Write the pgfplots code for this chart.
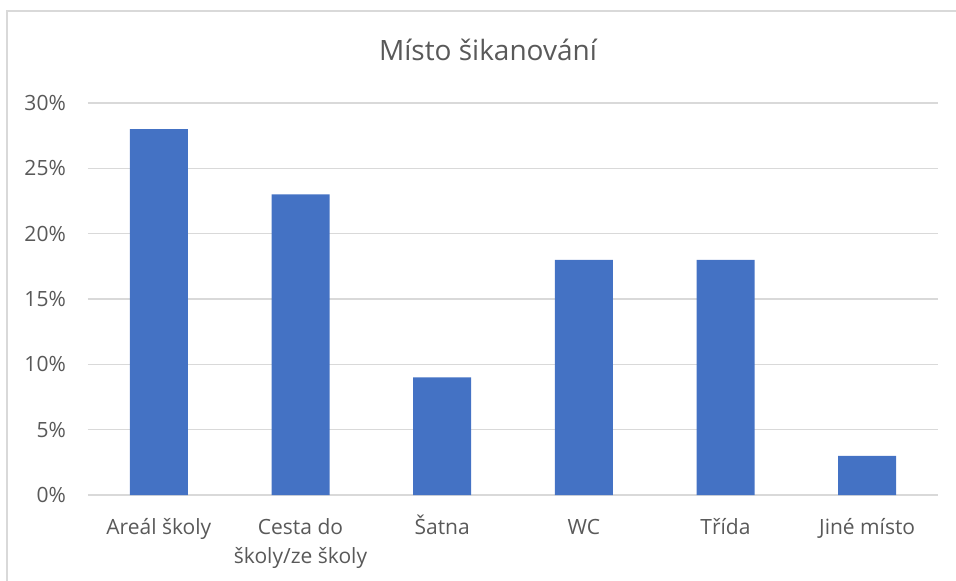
\documentclass[border=0pt]{standalone}
\usepackage{fontspec}
\setmainfont{Open Sans}
\usepackage{pgfplots}
\pgfplotsset{compat=1.18}
\definecolor{barblue}{HTML}{4472C4}
\definecolor{txt}{HTML}{595959}
\definecolor{gridc}{HTML}{D9D9D9}
\newcommand{\st}{\rule{0pt}{22pt}}
\begin{document}
\begin{tikzpicture}[x=1pt,y=1pt]
\useasboundingbox (0,0) rectangle (956,581);
\draw[gridc, line width=1.5pt] (7,0) -- (7,570) -- (956,570);
\node[text=txt, font=\fontsize{28}{32}\selectfont, anchor=center] at (488,531) {Místo šikanování};
\begin{axis}[at={(88pt,86pt)}, anchor=south west, scale only axis,
  width=850pt, height=392pt,
  ymin=0, ymax=30, xmin=-0.5, xmax=5.5,
  axis line style={draw=none},
  tick style={draw=none},
  ymajorgrids, major grid style={gridc, line width=1.3pt},
  ytick={0,5,...,30},
  /pgf/number format/assume math mode=true,
  yticklabel={\pgfmathprintnumber{\tick}\%},
  yticklabel style={inner sep=0pt, xshift=-22pt, text=txt, font=\fontsize{21}{25}\selectfont},
  xtick=data,
  xticklabels={\st Areál školy, {\st Cesta do\\školy/ze školy}, \st Šatna, \st WC, \st Třída, \st Jiné místo},
  xticklabel style={inner sep=0pt, yshift=-13pt, text=txt, align=center, font=\fontsize{21}{29}\selectfont},
  ybar, bar width=58pt,
]
\addplot[fill=barblue, draw=none] coordinates {(0,28) (1,23) (2,9) (3,18) (4,18) (5,3)};
\end{axis}
\end{tikzpicture}
\end{document}
